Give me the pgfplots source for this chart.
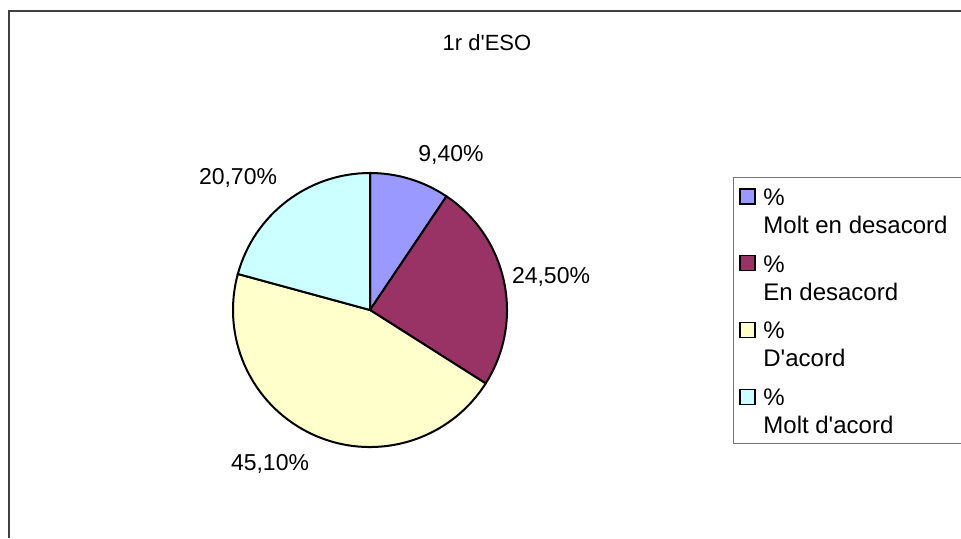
\documentclass[border=0pt]{standalone}
\usepackage{pgfplots}
\pgfplotsset{compat=1.18}
\usepackage{fontspec}
\setmainfont{Liberation Sans}
\definecolor{c1}{HTML}{9999FF}
\definecolor{c2}{HTML}{993366}
\definecolor{c3}{HTML}{FFFFCC}
\definecolor{c4}{HTML}{CCFFFF}
\definecolor{frame}{HTML}{404040}
\newcommand\q{\textquotesingle}
\begin{document}
\begin{tikzpicture}
% values (percent)
\def\vA{9.4}\def\vB{24.5}\def\vC{45.1}\def\vD{20.7}
\pgfmathsetmacro\tot{\vA+\vB+\vC+\vD}
\pgfmathsetmacro\aA{90}
\pgfmathsetmacro\aB{\aA-360*\vA/\tot}
\pgfmathsetmacro\aC{\aB-360*\vB/\tot}
\pgfmathsetmacro\aD{\aC-360*\vC/\tot}
\pgfmathsetmacro\aE{\aD-360*\vD/\tot}
\def\R{68.5pt}
\begin{axis}[
  at={(0,0)}, anchor=south west,
  width=480.5pt, height=269pt, scale only axis,
  xmin=0, xmax=961, ymin=0, ymax=538,
  hide axis, clip=false,
]
\coordinate (bl) at (axis cs:0,0);
\coordinate (tr) at (axis cs:961,538);
% frame
\draw[frame, line width=1pt] (axis cs:9,0) -- (axis cs:9,527) -- (axis cs:961,527);
% pie slices
\filldraw[fill=c1, draw=black, line width=1pt] (axis cs:370,228) -- ++(\aA:\R) arc[start angle=\aA, end angle=\aB, radius=\R] -- cycle;
\filldraw[fill=c2, draw=black, line width=1pt] (axis cs:370,228) -- ++(\aB:\R) arc[start angle=\aB, end angle=\aC, radius=\R] -- cycle;
\filldraw[fill=c3, draw=black, line width=1pt] (axis cs:370,228) -- ++(\aC:\R) arc[start angle=\aC, end angle=\aD, radius=\R] -- cycle;
\filldraw[fill=c4, draw=black, line width=1pt] (axis cs:370,228) -- ++(\aD:\R) arc[start angle=\aD, end angle=\aE, radius=\R] -- cycle;
% labels
\node[font=\fontsize{11}{13}\selectfont] at (axis cs:487,495) {1r d\q ESO};
\node[font=\fontsize{11.5}{13}\selectfont] at (axis cs:451,383) {9,40\%};
\node[font=\fontsize{11.5}{13}\selectfont] at (axis cs:551,261) {24,50\%};
\node[font=\fontsize{11.5}{13}\selectfont] at (axis cs:270,74) {45,10\%};
\node[font=\fontsize{11.5}{13}\selectfont] at (axis cs:238,360) {20,70\%};
% legend
\draw[black!55, line width=0.5pt, fill=white] (axis cs:970,361) -- (axis cs:733,361) -- (axis cs:733,95) -- (axis cs:970,95);
\filldraw[fill=c1, draw=black, line width=0.6pt] (axis cs:740,334) rectangle (axis cs:755,349);
\filldraw[fill=c2, draw=black, line width=0.6pt] (axis cs:740,267.3) rectangle (axis cs:755,282.3);
\filldraw[fill=c3, draw=black, line width=0.6pt] (axis cs:740,200.6) rectangle (axis cs:755,215.6);
\filldraw[fill=c4, draw=black, line width=0.6pt] (axis cs:740,133.9) rectangle (axis cs:755,148.9);
\begin{scope}[every node/.style={anchor=base west, inner sep=0pt, font=\fontsize{12}{14}\selectfont}]
\node at (axis cs:763,332.5) {\%};
\node at (axis cs:763,304.5) {Molt en desacord};
\node at (axis cs:763,265.8) {\%};
\node at (axis cs:763,237.8) {En desacord};
\node at (axis cs:763,199.1) {\%};
\node at (axis cs:763,171.1) {D\q acord};
\node at (axis cs:763,132.4) {\%};
\node at (axis cs:763,104.4) {Molt d\q acord};
\end{scope}
\end{axis}
\pgfresetboundingbox
\path[use as bounding box] (bl) rectangle (tr);
\end{tikzpicture}
\end{document}
